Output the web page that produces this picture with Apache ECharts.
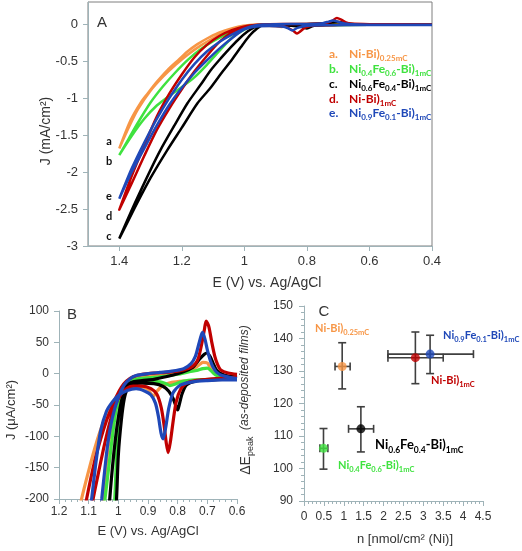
<!DOCTYPE html>
<html><head><meta charset="utf-8">
<script src="https://cdn.jsdelivr.net/npm/echarts@6/dist/echarts.min.js"></script>
<style>html,body{margin:0;padding:0;background:#fff}#c{width:522px;height:551px}</style>
</head><body><div id="c"></div>
<script>
// ---------- Panel A data: E (V) vs J (mA/cm2), forward and reverse branches ----------
const aOrangeFwd = [[0.4,-0.006],[0.6,-0.008],[0.75,-0.011],[0.85,-0.018],[0.882,-0.037],[0.9,-0.026],[0.95,-0.022],[0.98,-0.03],[1.0,-0.045],[1.02,-0.065],[1.06,-0.11],[1.10,-0.19],[1.14,-0.29],[1.18,-0.41],[1.22,-0.55],[1.26,-0.71],[1.30,-0.90],[1.34,-1.15],[1.37,-1.40],[1.4,-1.68]];
const aOrangeRev = [[1.4,-1.68],[1.364,-1.30],[1.33,-1.05],[1.31,-0.94],[1.28,-0.78],[1.246,-0.62],[1.21,-0.48],[1.182,-0.37],[1.15,-0.27],[1.118,-0.19],[1.085,-0.12],[1.054,-0.075],[1.02,-0.035],[0.99,-0.013],[0.95,-0.005],[0.85,0],[0.75,0.008],[0.72,0.018],[0.70,0.016],[0.67,0.0],[0.5,-0.004],[0.4,-0.005]];
const aGreenFwd = [[0.4,-0.006],[0.6,-0.008],[0.78,-0.012],[0.826,-0.019],[0.86,-0.013],[0.94,-0.012],[0.97,-0.022],[0.994,-0.06],[1.036,-0.17],[1.08,-0.36],[1.12,-0.55],[1.16,-0.72],[1.2,-0.85],[1.24,-0.97],[1.28,-1.10],[1.32,-1.28],[1.36,-1.51],[1.4,-1.77]];
const aGreenRev = [[1.4,-1.77],[1.37,-1.55],[1.34,-1.33],[1.3,-1.06],[1.26,-0.84],[1.22,-0.65],[1.18,-0.48],[1.14,-0.34],[1.1,-0.23],[1.06,-0.14],[1.02,-0.065],[0.98,-0.02],[0.95,-0.01],[0.88,-0.006],[0.8,-0.001],[0.74,0.005],[0.70,0.009],[0.68,0.001],[0.6,-0.005],[0.4,-0.006]];
const aBlackFwd = [[0.4,-0.008],[0.6,-0.008],[0.74,-0.012],[0.78,-0.025],[0.80,-0.058],[0.815,-0.04],[0.85,-0.02],[0.92,-0.015],[0.94,-0.016],[0.968,-0.09],[0.99,-0.19],[1.011,-0.31],[1.04,-0.48],[1.075,-0.67],[1.11,-0.87],[1.15,-1.07],[1.2,-1.40],[1.246,-1.70],[1.30,-2.08],[1.35,-2.48],[1.4,-2.90]];
const aBlackRev = [[1.4,-2.90],[1.35,-2.42],[1.30,-1.97],[1.268,-1.70],[1.225,-1.38],[1.182,-1.07],[1.14,-0.82],[1.107,-0.62],[1.075,-0.46],[1.043,-0.31],[1.015,-0.19],[0.99,-0.10],[0.97,-0.045],[0.947,-0.012],[0.92,-0.01],[0.85,-0.005],[0.8,0],[0.745,0.012],[0.72,0.025],[0.702,0.033],[0.68,0.016],[0.66,0.002],[0.6,-0.005],[0.4,-0.006]];
const aRedFwd = [[0.4,-0.006],[0.6,-0.007],[0.7,-0.009],[0.77,-0.015],[0.805,-0.045],[0.832,-0.125],[0.845,-0.085],[0.87,-0.033],[0.92,-0.02],[0.96,-0.022],[1.0,-0.045],[1.04,-0.11],[1.08,-0.24],[1.12,-0.43],[1.16,-0.64],[1.20,-0.88],[1.24,-1.14],[1.28,-1.43],[1.32,-1.78],[1.36,-2.15],[1.4,-2.51]];
const aRedRev = [[1.4,-2.51],[1.36,-2.05],[1.32,-1.64],[1.28,-1.25],[1.24,-0.94],[1.20,-0.68],[1.16,-0.45],[1.12,-0.28],[1.08,-0.16],[1.04,-0.08],[1.0,-0.03],[0.96,-0.008],[0.92,0],[0.85,0.002],[0.78,0.006],[0.74,0.016],[0.72,0.045],[0.704,0.084],[0.69,0.06],[0.675,0.025],[0.66,0.008],[0.6,0],[0.4,-0.004]];
const aBlueFwd = [[0.4,-0.01],[0.6,-0.01],[0.75,-0.013],[0.8,-0.02],[0.83,-0.05],[0.847,-0.085],[0.86,-0.055],[0.88,-0.032],[0.92,-0.025],[0.96,-0.03],[1.0,-0.07],[1.04,-0.19],[1.08,-0.33],[1.12,-0.49],[1.16,-0.66],[1.20,-0.86],[1.24,-1.09],[1.28,-1.37],[1.32,-1.68],[1.36,-2.00],[1.4,-2.36]];
const aBlueRev = [[1.4,-2.36],[1.36,-1.95],[1.32,-1.60],[1.28,-1.28],[1.24,-1.00],[1.20,-0.75],[1.16,-0.54],[1.12,-0.37],[1.08,-0.24],[1.04,-0.14],[1.0,-0.06],[0.97,-0.02],[0.94,-0.005],[0.9,0],[0.8,0.004],[0.75,0.014],[0.73,0.035],[0.716,0.05],[0.70,0.03],[0.68,0.008],[0.66,0],[0.6,-0.006],[0.4,-0.008]];

// ---------- Panel B data: E (V) vs J (uA/cm2) ----------
const bOrangeFwd = [[0.6,-8],[0.7,-10],[0.78,-12],[0.82,-14],[0.85,-19],[0.87,-28],[0.882,-36],[0.89,-32],[0.90,-25],[0.92,-21],[0.95,-21],[0.98,-27],[1.0,-42],[1.02,-75],[1.035,-120],[1.051,-200],[1.065,-260]];
const bOrangeRev = [[1.15,-260],[1.124,-200],[1.10,-155],[1.08,-120],[1.06,-90],[1.04,-66],[1.02,-50],[1.006,-40],[0.99,-28],[0.97,-17],[0.95,-10],[0.92,-5],[0.88,-2],[0.84,0],[0.78,3],[0.75,7],[0.73,13],[0.715,18],[0.70,17],[0.69,10],[0.675,2],[0.65,-3],[0.6,-6]];
const bGreenFwd = [[0.6,-8],[0.68,-9],[0.74,-10],[0.78,-12],[0.805,-16],[0.826,-19],[0.84,-16],[0.86,-13],[0.90,-12],[0.94,-12],[0.97,-16],[0.985,-30],[1.0,-75],[1.012,-200],[1.02,-260]];
const bGreenRev = [[1.06,-260],[1.045,-200],[1.03,-140],[1.02,-100],[1.01,-65],[1.0,-42],[0.99,-26],[0.98,-16],[0.96,-10],[0.93,-8],[0.88,-6],[0.84,-4],[0.80,-1],[0.76,3],[0.736,5],[0.715,8],[0.70,9],[0.69,6],[0.68,1],[0.668,-3],[0.64,-5],[0.6,-6]];
const bBlackFwd = [[0.6,-8],[0.65,-9],[0.7,-10],[0.74,-12],[0.77,-18],[0.785,-32],[0.795,-50],[0.80,-58],[0.805,-53],[0.815,-40],[0.83,-28],[0.85,-20],[0.88,-16],[0.92,-15],[0.95,-17],[0.97,-25],[0.98,-40],[0.99,-75],[1.0,-130],[1.006,-200],[1.015,-270]];
const bBlackRev = [[1.04,-270],[1.029,-200],[1.02,-150],[1.01,-105],[1.0,-70],[0.99,-45],[0.98,-28],[0.97,-18],[0.95,-13],[0.92,-11],[0.88,-9],[0.84,-5],[0.80,0],[0.77,5],[0.747,11],[0.725,24],[0.71,31],[0.702,33],[0.69,27],[0.68,16],[0.668,5],[0.65,-1],[0.63,-4],[0.6,-6]];
const bRedFwd = [[0.6,-6],[0.65,-7],[0.70,-9],[0.74,-11],[0.77,-15],[0.79,-25],[0.805,-45],[0.815,-75],[0.825,-110],[0.832,-126],[0.838,-112],[0.845,-85],[0.855,-55],[0.87,-33],[0.89,-24],[0.92,-20],[0.95,-20],[0.97,-23],[0.99,-32],[1.01,-50],[1.03,-80],[1.05,-120],[1.07,-165],[1.085,-200],[1.10,-245]];
const bRedRev = [[1.13,-260],[1.107,-200],[1.08,-140],[1.06,-105],[1.04,-75],[1.023,-55],[1.006,-36],[0.99,-22],[0.973,-12],[0.95,-5],[0.92,-1],[0.88,1],[0.84,2],[0.80,4],[0.76,9],[0.74,16],[0.73,25],[0.72,45],[0.71,70],[0.704,84],[0.695,75],[0.685,50],[0.675,28],[0.665,14],[0.655,6],[0.63,1],[0.6,-1]];
const bBlueFwd = [[0.6,-10],[0.65,-10],[0.70,-11],[0.75,-13],[0.79,-18],[0.815,-30],[0.83,-55],[0.84,-85],[0.849,-104],[0.856,-95],[0.865,-68],[0.875,-47],[0.89,-34],[0.91,-28],[0.94,-24],[0.97,-27],[1.0,-35],[1.02,-45],[1.04,-60],[1.06,-92],[1.075,-140],[1.09,-200],[1.1,-240]];
const bBlueRev = [[1.07,-260],[1.056,-200],[1.045,-150],[1.035,-110],[1.02,-70],[1.0,-38],[0.98,-18],[0.96,-8],[0.94,-3],[0.90,0],[0.86,2],[0.82,4],[0.78,8],[0.755,16],[0.74,28],[0.73,45],[0.72,62],[0.716,66],[0.708,55],[0.70,38],[0.69,21],[0.68,10],[0.668,2],[0.65,-3],[0.6,-8]];

// ---------- Panel C data ----------
const cNamesOrder = ['orange','green','black','red','blue'];
const cX     = [0.96, 0.49, 1.43, 2.80, 3.17];
const cY     = [131.4, 106.2, 112.2, 134.1, 135.2];
const cXLow  = [0.78, 0.40, 1.12, 2.11, 2.11];
const cXHigh = [1.16, 0.60, 1.75, 3.50, 4.26];
const cYLow  = [124.5, 99.8, 105.1, 126.1, 129.2];
const cYHigh = [138.7, 112.3, 119.0, 142.0, 141.0];

// ---------- Texts ----------
const legendLetters = ['a.','b.','c.','d.','e.'];
const legendTexts = ['{m|Ni-Bi)}{s|0.25mC}','{m|Ni}{s|0.4}{m|Fe}{s|0.6}{m|-Bi)}{s|1mC}','{m|Ni}{s|0.6}{m|Fe}{s|0.4}{m|-Bi)}{s|1mC}','{m|Ni-Bi)}{s|1mC}','{m|Ni}{s|0.9}{m|Fe}{s|0.1}{m|-Bi)}{s|1mC}'];
const curveLetters = ['a','b','e','d','c'];

const COL = {orange:'#f79646', green:'#3fe23f', black:'#000000', red:'#c00000', blue:'#1f48b8'};
const legendColors = [COL.orange, COL.green, COL.black, COL.red, COL.blue];

const FF = "'Liberation Sans', Arial, sans-serif";
const LF = "Lato, 'Open Sans', sans-serif";
const AXC = '#9fb3b8';
const TXT = '#333333';

const chart = echarts.init(document.getElementById('c'), null, {renderer:'canvas'});

function lineSeries(data, color, xi, w){
  return {type:'line', xAxisIndex:xi, yAxisIndex:xi, data:data, showSymbol:false, symbol:'none', smooth:0.25,
    lineStyle:{color:color, width:w}, clip:true, silent:true, z:2};
}
function axisCommon(fs, margin){
  return {
    axisLine:{show:true, onZero:false, lineStyle:{color:AXC, width:1}},
    axisTick:{show:true, length:5, lineStyle:{color:AXC}},
    axisLabel:{fontSize:fs, color:TXT, fontFamily:FF, margin:margin},
    splitLine:{show:false}
  };
}
function mk(base, extra){ const o = Object.assign({}, base, extra); return o; }

const richLeg = {
  m:{fontSize:12, fontWeight:'bold', fontFamily:LF, lineHeight:14, verticalAlign:'top'},
  s:{fontSize:8, fontWeight:'bold', fontFamily:LF, lineHeight:10, padding:[6,0,0,0], verticalAlign:'top'}
};
const richSmall = {
  m:{fontSize:11, fontWeight:'bold', fontFamily:LF, lineHeight:13, verticalAlign:'top'},
  s:{fontSize:7.5, fontWeight:'bold', fontFamily:LF, lineHeight:9, padding:[6,0,0,0], verticalAlign:'top'}
};
const richBig = {
  m:{fontSize:13, fontWeight:'bold', fontFamily:LF, lineHeight:15, verticalAlign:'top'},
  s:{fontSize:8.5, fontWeight:'bold', fontFamily:LF, lineHeight:10, padding:[7,0,0,0], verticalAlign:'top'}
};

const graphics = [];
function txt(x,y,text,opts){
  graphics.push(Object.assign({type:'text', x:x, y:y, silent:true, z:10,
    style:Object.assign({text:text, fill:TXT, font:'14px '+FF, align:'center', verticalAlign:'middle'}, opts||{})}));
}
// Panel A texts
txt(102,23,'A',{font:'15px '+FF});
txt(46,131,'J (mA/cm²)',{font:'14px '+FF});
graphics[graphics.length-1].rotation = Math.PI/2;
txt(267,283,'E (V) vs. Ag/AgCl',{font:'14px '+FF});
const curveLetterY = [141.5,161.5,196,216,236];
curveLetters.forEach((l,i)=>txt(109,curveLetterY[i],l,{font:'bold 11px '+LF, fill:'#111'}));
const legY = [54,69,84,99,113.5];
legendLetters.forEach((l,i)=>{
  txt(329,legY[i],l,{font:'bold 12px '+LF, fill:legendColors[i], align:'left'});
  txt(349,legY[i]+1,legendTexts[i],{rich:richLeg, fill:legendColors[i], align:'left', font:'bold 12px '+LF});
});
// Panel B texts
txt(72,315,'B',{font:'15px '+FF});
txt(11,410,'J (μA/cm²)',{font:'13px '+FF});
graphics[graphics.length-1].rotation = Math.PI/2;
txt(148,531,'E (V) vs. Ag/AgCl',{font:'13px '+FF});
// Panel C texts
txt(247,400,'{m|ΔE}{s|peak}{i|  (as-deposited films)}',{rich:{
  m:{fontSize:14, fontFamily:FF, lineHeight:16, verticalAlign:'top'},
  s:{fontSize:9, fontFamily:FF, lineHeight:10, padding:[7,0,0,0], verticalAlign:'top'},
  i:{fontSize:12, fontStyle:'italic', fontFamily:FF, lineHeight:16, verticalAlign:'top'}}, font:'14px '+FF});
graphics[graphics.length-1].rotation = Math.PI/2;
txt(324,312,'C',{font:'15px '+FF});
txt(405,539,'n [nmol/cm² (Ni)]',{font:'13px '+FF});
txt(315,329,'{m|Ni-Bi)}{s|0.25mC}',{rich:richSmall, fill:COL.orange, align:'left', font:'bold 11px '+LF});
txt(443,336,'{m|Ni}{s|0.9}{m|Fe}{s|0.1}{m|-Bi)}{s|1mC}',{rich:richSmall, fill:COL.blue, align:'left', font:'bold 11px '+LF});
txt(431,381,'{m|Ni-Bi)}{s|1mC}',{rich:richSmall, fill:COL.red, align:'left', font:'bold 11px '+LF});
txt(375,446,'{m|Ni}{s|0.6}{m|Fe}{s|0.4}{m|-Bi)}{s|1mC}',{rich:richBig, fill:'#000', align:'left', font:'bold 13px '+LF});
txt(338,466,'{m|Ni}{s|0.4}{m|Fe}{s|0.6}{m|-Bi)}{s|1mC}',{rich:richSmall, fill:COL.green, align:'left', font:'bold 11px '+LF});

const errData = cX.map((x,i)=>[x, cY[i], cXLow[i], cXHigh[i], cYLow[i], cYHigh[i]]);

const option = {
  animation:false,
  grid:[
    {left:88, top:2, width:344, height:244, show:true, borderColor:'#7f7f7f', borderWidth:1},
    {left:59, top:311, width:178, height:188},
    {left:304, top:306, width:179, height:195}
  ],
  xAxis:[
    mk(axisCommon(13,9), {gridIndex:0, type:'value', inverse:true, min:0.4, max:1.5, interval:0.2,
       axisLabel:{fontSize:13, color:TXT, fontFamily:FF, margin:9, showMaxLabel:false}}),
    mk(axisCommon(12,7), {gridIndex:1, type:'value', inverse:true, min:0.6, max:1.2, interval:0.1,
       minorTick:{show:true, splitNumber:5, length:3, lineStyle:{color:AXC}}}),
    mk(axisCommon(12,10), {gridIndex:2, type:'value', min:0, max:4.5, interval:0.5,
       minorTick:{show:true, splitNumber:5, length:3, lineStyle:{color:AXC}}})
  ],
  yAxis:[
    mk(axisCommon(13,10), {gridIndex:0, type:'value', min:-3, max:0.3, interval:0.5,
       axisLabel:{fontSize:13, color:TXT, fontFamily:FF, margin:10, showMaxLabel:false}}),
    mk(axisCommon(12,10), {gridIndex:1, type:'value', min:-200, max:100, interval:50}),
    mk(axisCommon(12,11), {gridIndex:2, type:'value', min:90, max:150, interval:10,
       minorTick:{show:true, splitNumber:5, length:3, lineStyle:{color:AXC}}})
  ],
  series:[
    lineSeries(aOrangeFwd.concat(aOrangeRev), COL.orange, 0, 2.5),
    lineSeries(aGreenFwd.concat(aGreenRev), COL.green, 0, 2.5),
    lineSeries(aBlackFwd.concat(aBlackRev), COL.black, 0, 2.5),
    lineSeries(aRedFwd.concat(aRedRev), COL.red, 0, 2.5),
    lineSeries(aBlueFwd.concat(aBlueRev), COL.blue, 0, 2.5),
    lineSeries(bOrangeFwd.concat(bOrangeRev), COL.orange, 1, 3.2),
    lineSeries(bGreenFwd.concat(bGreenRev), COL.green, 1, 3.2),
    lineSeries(bBlackFwd.concat(bBlackRev), COL.black, 1, 3.2),
    lineSeries(bRedFwd.concat(bRedRev), COL.red, 1, 3.2),
    lineSeries(bBlueFwd.concat(bBlueRev), COL.blue, 1, 3.2),
    {type:'custom', xAxisIndex:2, yAxisIndex:2, data:errData, silent:true, z:3,
     encode:{x:[0,2,3], y:[1,4,5]},
     renderItem:function(params, api){
       const x=api.value(0), y=api.value(1);
       const p=api.coord([x,y]);
       const xl=api.coord([api.value(2),y])[0], xh=api.coord([api.value(3),y])[0];
       const yl=api.coord([x,api.value(4)])[1], yh=api.coord([x,api.value(5)])[1];
       const c=4, st={stroke:'#3f3f3f', lineWidth:1.6};
       const L=(x1,y1,x2,y2)=>({type:'line', shape:{x1:x1,y1:y1,x2:x2,y2:y2}, style:st});
       return {type:'group', children:[
         L(xl,p[1],xh,p[1]), L(xl,p[1]-c,xl,p[1]+c), L(xh,p[1]-c,xh,p[1]+c),
         L(p[0],yl,p[0],yh), L(p[0]-c,yl,p[0]+c,yl), L(p[0]-c,yh,p[0]+c,yh)
       ]};
     }},
    {type:'scatter', xAxisIndex:2, yAxisIndex:2, symbol:'circle', symbolSize:9, z:4, silent:true,
     data:cX.map((x,i)=>({value:[x,cY[i]], itemStyle:{color:COL[cNamesOrder[i]]}}))}
  ],
  graphic:graphics
};
chart.setOption(option);
</script>
</body></html>
